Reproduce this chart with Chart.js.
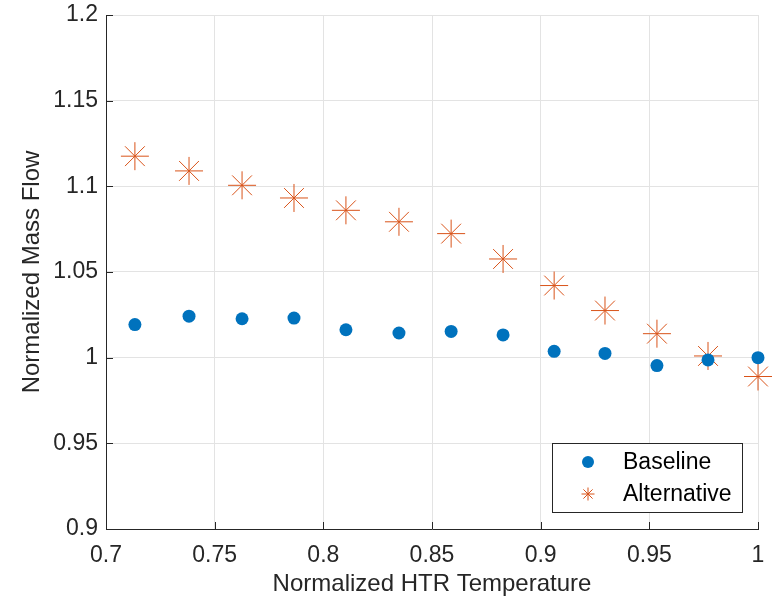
<!DOCTYPE html>
<html><head><meta charset="utf-8">
<script src="https://cdn.jsdelivr.net/npm/chart.js@4/dist/chart.umd.min.js"></script>
<style>html,body{margin:0;padding:0;background:#fff}#wrap{width:774px;height:602px}</style>
</head><body><div id="wrap"><canvas id="c" width="774" height="602"></canvas></div>
<script>
const seriesNames = ["Baseline", "Alternative"];
const temperature = [0.7133, 0.7382, 0.7626, 0.7865, 0.8104, 0.8348, 0.8588, 0.8827, 0.9062, 0.9296, 0.9535, 0.9770, 1.0];
const baselineFlow = [1.0193, 1.0242, 1.0227, 1.0231, 1.0163, 1.0144, 1.0153, 1.0133, 1.0037, 1.0025, 0.9954, 0.9987, 1.0];
const alternativeFlow = [1.1176, 1.1090, 1.1006, 1.0932, 1.0860, 1.0793, 1.0724, 1.0576, 1.0421, 1.0275, 1.0140, 1.0010, 0.9890];
const xTickValues = [0.7, 0.75, 0.8, 0.85, 0.9, 0.95, 1];
const xTickLabels = ["0.7", "0.75", "0.8", "0.85", "0.9", "0.95", "1"];
const yTickValues = [0.9, 0.95, 1, 1.05, 1.1, 1.15, 1.2];
const yTickLabels = ["0.9", "0.95", "1", "1.05", "1.1", "1.15", "1.2"];

const FONT = "'Liberation Sans', Arial, Helvetica, sans-serif";
const TXT = '#262626';
const BLUE = '#0072BD';
const ORANGE = '#D95319';

const pts = (xs, ys) => xs.map((x, i) => ({x, y: ys[i]}));

const innerTicks = {
  id: 'innerTicks',
  afterDatasetsDraw(chart) {
    const {ctx, chartArea: a, scales: {x, y}} = chart;
    ctx.save();
    ctx.strokeStyle = TXT; ctx.lineWidth = 1;
    ctx.beginPath();
    xTickValues.forEach(v => { const px = Math.round(x.getPixelForValue(v)) + 0.5; ctx.moveTo(px, a.bottom); ctx.lineTo(px, a.bottom - 7); });
    yTickValues.forEach(v => { const py = Math.round(y.getPixelForValue(v)) + 0.5; ctx.moveTo(a.left, py); ctx.lineTo(a.left + 7, py); });
    ctx.stroke();
    ctx.restore();
  }
};

const boxLegend = {
  id: 'boxLegend',
  afterDraw(chart) {
    const {ctx} = chart;
    const L = 552, T = 443, W = 190, H = 69;
    ctx.save();
    ctx.fillStyle = '#fff'; ctx.fillRect(L, T, W, H);
    ctx.strokeStyle = TXT; ctx.lineWidth = 1;
    ctx.strokeRect(L + 0.5, T + 0.5, W, H);
    const rows = [T + 19, T + 51];
    chart.data.datasets.forEach((ds, i) => {
      const cy = rows[i], cx = 588;
      ctx.save();
      if (i === 0) {
        ctx.fillStyle = BLUE; ctx.beginPath(); ctx.arc(cx, cy, 6, 0, Math.PI * 2); ctx.fill();
      } else {
        ctx.strokeStyle = ORANGE; ctx.lineWidth = 1; ctx.beginPath();
        const r = 6.5;
        ctx.moveTo(cx - r, cy); ctx.lineTo(cx + r, cy);
        ctx.moveTo(cx, cy - r); ctx.lineTo(cx, cy + r);
        const d = r * 0.707;
        ctx.moveTo(cx - d, cy - d); ctx.lineTo(cx + d, cy + d);
        ctx.moveTo(cx - d, cy + d); ctx.lineTo(cx + d, cy - d);
        ctx.stroke();
      }
      ctx.restore();
      ctx.fillStyle = '#000'; ctx.font = '23px ' + FONT; ctx.textBaseline = 'middle'; ctx.textAlign = 'left';
      ctx.fillText(ds.label, 623, cy + 1);
    });
    ctx.restore();
  }
};

new Chart(document.getElementById('c'), {
  type: 'scatter',
  data: {
    datasets: [
      {label: seriesNames[0], data: pts(temperature, baselineFlow), pointStyle: 'circle', pointRadius: 6.5, pointHoverRadius: 6.5,
       backgroundColor: BLUE, borderColor: BLUE, borderWidth: 0, clip: false},
      {label: seriesNames[1], data: pts(temperature, alternativeFlow), pointStyle: 'star', pointRadius: 14, pointHoverRadius: 14,
       backgroundColor: ORANGE, borderColor: ORANGE, borderWidth: 1, clip: false}
    ]
  },
  options: {
    responsive: false, animation: false, devicePixelRatio: 1,
    layout: {padding: {top: 15, right: 16, left: 0, bottom: 0}},
    plugins: {legend: {display: false}, tooltip: {enabled: false}},
    scales: {
      x: {
        type: 'linear', min: 0.7, max: 1.0,
        afterBuildTicks: s => { s.ticks = xTickValues.map(v => ({value: v})); },
        afterFit: s => { s.height = 73; s.paddingLeft = 0; s.paddingRight = 0; },
        ticks: {callback: (v) => xTickLabels[xTickValues.indexOf(v)] ?? '', font: {family: FONT, size: 23}, color: TXT, padding: 13, maxRotation: 0},
        grid: {color: '#e3e3e3', drawTicks: false, lineWidth: 1},
        border: {display: true, color: TXT, width: 1},
        title: {display: true, text: 'Normalized HTR Temperature', font: {family: FONT, size: 24}, color: TXT, padding: {top: 0, bottom: 3}}
      },
      y: {
        type: 'linear', min: 0.9, max: 1.2,
        afterBuildTicks: s => { s.ticks = yTickValues.map(v => ({value: v})); },
        afterFit: s => { s.width = 106; s.paddingTop = 0; s.paddingBottom = 0; },
        ticks: {callback: (v) => yTickLabels[yTickValues.indexOf(v)] ?? '', font: {family: FONT, size: 23}, color: TXT, padding: 8},
        grid: {color: '#e3e3e3', drawTicks: false, lineWidth: 1},
        border: {display: true, color: TXT, width: 1},
        title: {display: true, text: 'Normalized Mass Flow', font: {family: FONT, size: 24}, color: TXT, padding: {top: 18, bottom: 0}}
      }
    }
  },
  plugins: [innerTicks, boxLegend]
});
</script></body></html>
